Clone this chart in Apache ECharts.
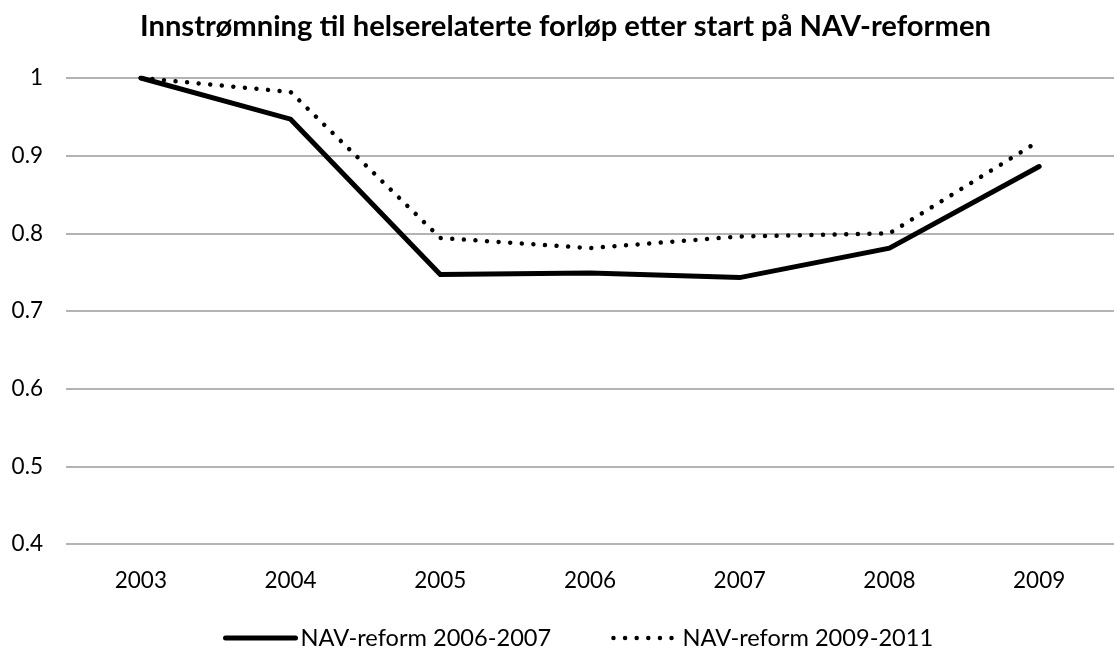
<!DOCTYPE html>
<html>
<head>
<meta charset="utf-8">
<script src="https://cdn.jsdelivr.net/npm/echarts@6/dist/echarts.min.js"></script>
<style>html,body{margin:0;padding:0;background:#fff}#c{width:1114px;height:648px}</style>
</head>
<body>
<div id="c"></div>
<script>
const title = 'Innstrømning til helserelaterte forløp etter start på NAV-reformen';
const categories = ['2003', '2004', '2005', '2006', '2007', '2008', '2009'];
const seriesNames = ['NAV-reform 2006-2007', 'NAV-reform 2009-2011'];
const reform2006 = [1.000, 0.947, 0.747, 0.749, 0.743, 0.781, 0.886];
const reform2009 = [1.000, 0.982, 0.794, 0.781, 0.796, 0.800, 0.919];
const yTicks = { min: 0.4, max: 1.0, interval: 0.1 };

const FONT = 'Lato';
const solidStyle = { color: '#000', width: 5, cap: 'round', join: 'miter' };
const dottedStyle = { color: '#000', width: 4.5, type: [0.01, 11.6], cap: 'round' };

const chart = echarts.init(document.getElementById('c'), null, { renderer: 'canvas' });
chart.setOption({
  animation: false,
  backgroundColor: '#ffffff',
  title: {
    text: title,
    left: 135,
    top: 7,
    textStyle: { fontFamily: FONT, fontWeight: 'bold', fontSize: 29.2, color: '#000' }
  },
  legend: {
    left: 218,
    top: 621,
    itemWidth: 70,
    itemHeight: 14,
    itemGap: 54,
    itemStyle: { opacity: 0 },
    textStyle: { fontFamily: FONT, fontSize: 23.6, color: '#000' },
    data: [
      { name: seriesNames[0], lineStyle: { width: 5 } },
      { name: seriesNames[1], lineStyle: { width: 4.5, dashOffset: 5.6 } }
    ]
  },
  grid: { left: 66, top: 78, width: 1061, height: 466, containLabel: false },
  xAxis: {
    type: 'category',
    data: categories,
    boundaryGap: true,
    axisLine: { show: false },
    axisTick: { show: false },
    axisLabel: { fontFamily: FONT, fontSize: 22.5, color: '#000', margin: 25 }
  },
  yAxis: {
    type: 'value',
    min: yTicks.min,
    max: yTicks.max,
    interval: yTicks.interval,
    axisLine: { show: false },
    axisTick: { show: false },
    axisLabel: {
      fontFamily: FONT, fontSize: 22.5, color: '#000', margin: 23,
      formatter: v => String(Math.round(v * 10) / 10)
    },
    splitLine: { lineStyle: { color: '#9a9a9a', width: 1.6 } }
  },
  series: [
    {
      name: seriesNames[0],
      type: 'line',
      data: reform2006,
      showSymbol: false,
      symbol: 'none',
      color: '#000',
      lineStyle: solidStyle
    },
    {
      name: seriesNames[1],
      type: 'line',
      data: reform2009,
      showSymbol: false,
      symbol: 'none',
      color: '#000',
      lineStyle: dottedStyle
    }
  ]
});
</script>
</body>
</html>
